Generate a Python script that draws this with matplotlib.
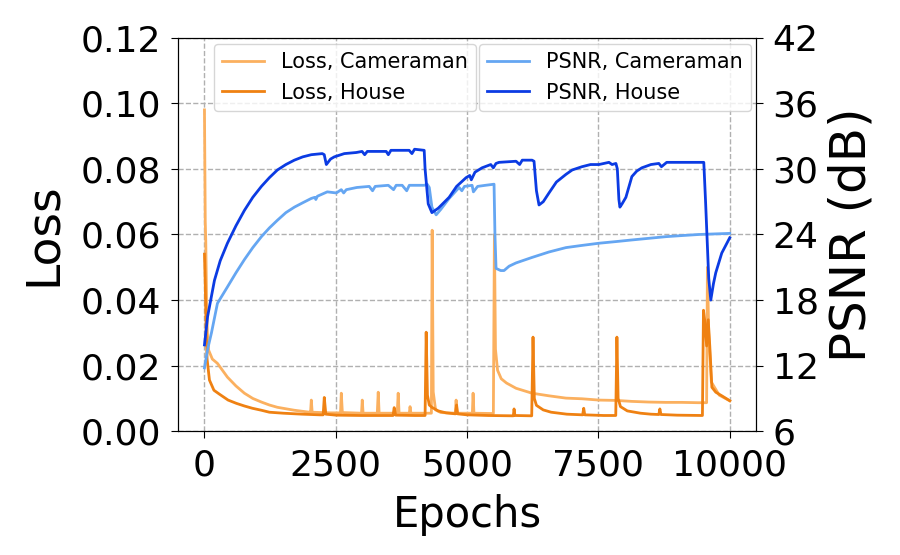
import numpy as np
import matplotlib
matplotlib.use("Agg")
import matplotlib.pyplot as plt

# Loss, Cameraman
ep_loss_cam = [0, 8, 15, 25, 40, 55, 80, 150, 247, 437, 600, 760, 920, 1084, 1236, 1388, 1711,
               2000, 2020, 2034, 2050, 2400, 2590, 2605, 2625, 2990, 3004, 3020, 3290, 3308, 3325,
               3670, 3688, 3705, 3900, 3914, 3930, 4320, 4335, 4355, 4400, 4500, 4775, 4791, 4808,
               5100, 5114, 5130, 5500, 5520, 5540, 5580, 5650, 5750, 5932, 6236, 6559, 6882, 7186,
               7510, 7833, 8137, 8460, 8783, 9087, 9400, 9560, 9575, 9600, 9650, 9800, 10000]
loss_cam = [0.098, 0.080, 0.064, 0.058, 0.040, 0.030, 0.0247, 0.0220, 0.0207, 0.0165, 0.0138,
            0.0116, 0.0100, 0.0089, 0.0080, 0.0073, 0.0064, 0.0058, 0.0058, 0.0095, 0.0058, 0.0056,
            0.0056, 0.0116, 0.0057, 0.0055, 0.0095, 0.0055, 0.0055, 0.0119, 0.0055, 0.0055, 0.0116,
            0.0055, 0.0055, 0.0075, 0.0055, 0.0055, 0.0613, 0.0120, 0.0065, 0.0057, 0.0055, 0.0095,
            0.0055, 0.0055, 0.0116, 0.0055, 0.0054, 0.0600, 0.0250, 0.0186, 0.0160, 0.0147, 0.0131,
            0.0116, 0.0108, 0.0101, 0.0099, 0.0095, 0.0094, 0.0091, 0.0089, 0.0088, 0.0088, 0.0087,
            0.0087, 0.0500, 0.0300, 0.0150, 0.0110, 0.0093]

# Loss, House
ep_loss_house = [0, 15, 30, 50, 95, 180, 285, 450, 608, 760, 913, 1084, 1236, 1500, 1863, 2200,
                 2260, 2281, 2310, 2510, 3000, 3590, 3612, 3640, 4000, 4200, 4221, 4245, 4280, 4330,
                 4450, 4600, 4780, 4800, 4820, 5000, 5400, 5880, 5894, 5910, 6230, 6255, 6280, 6320,
                 6450, 6600, 6900, 7200, 7220, 7240, 7600, 7830, 7852, 7875, 7920, 8050, 8300, 8500,
                 8650, 8670, 8690, 9000, 9480, 9500, 9530, 9560, 9590, 9620, 9660, 9734, 9850, 10000]
loss_house = [0.054, 0.045, 0.032, 0.022, 0.0156, 0.0125, 0.0113, 0.0095, 0.0085, 0.0077, 0.0070,
              0.0064, 0.0058, 0.0055, 0.0052, 0.0050, 0.0050, 0.0103, 0.0052, 0.0049, 0.0048, 0.0048,
              0.0072, 0.0049, 0.0048, 0.0048, 0.0302, 0.0110, 0.0080, 0.0073, 0.0062, 0.0056, 0.0053,
              0.0080, 0.0053, 0.0050, 0.0048, 0.0047, 0.0068, 0.0048, 0.0047, 0.0287, 0.0100, 0.0079,
              0.0065, 0.0058, 0.0052, 0.0050, 0.0070, 0.0050, 0.0048, 0.0048, 0.0287, 0.0100, 0.0075,
              0.0062, 0.0055, 0.0052, 0.0051, 0.0068, 0.0051, 0.0049, 0.0048, 0.0369, 0.0330, 0.0260,
              0.0340, 0.0260, 0.0134, 0.0119, 0.0108, 0.0093]

# PSNR, Cameraman
ep_psnr_cam = [0, 60, 133, 247, 437, 600, 760, 920, 1084, 1236, 1388, 1550, 1711, 1870, 2034, 2100,
               2120, 2150, 2338, 2510, 2605, 2650, 2700, 2900, 3137, 3200, 3250, 3500, 3600, 3650,
               3764, 3850, 3900, 4183, 4240, 4280, 4330, 4411, 4500, 4658, 4848, 4900, 4950, 5095,
               5120, 5200, 5350, 5513, 5530, 5551, 5640, 5703, 5800, 5932, 6236, 6559, 6882, 7186,
               7510, 7833, 8137, 8460, 8783, 9087, 9411, 9700, 10000]
psnr_cam = [11.8, 13.5, 15.0, 17.7, 19.2, 20.5, 21.7, 22.8, 23.8, 24.6, 25.3, 26.0, 26.5, 26.9, 27.3,
            27.4, 27.2, 27.5, 27.9, 27.8, 28.1, 27.8, 28.1, 28.3, 28.4, 28.0, 28.4, 28.5, 28.1, 28.5,
            28.5, 28.0, 28.5, 28.5, 28.6, 28.3, 26.5, 25.8, 26.3, 27.3, 28.3, 28.0, 28.4, 28.5, 27.9,
            28.4, 28.5, 28.6, 24.0, 20.9, 20.7, 20.7, 21.1, 21.4, 21.9, 22.4, 22.8, 23.0, 23.2, 23.35,
            23.5, 23.65, 23.8, 23.9, 24.0, 24.05, 24.1]

# PSNR, House
ep_psnr_house = [0, 60, 190, 300, 437, 600, 760, 920, 1084, 1236, 1388, 1550, 1711, 1870, 2034,
                 2243, 2280, 2320, 2400, 2471, 2662, 2890, 3000, 3050, 3100, 3460, 3500, 3550, 3897,
                 3950, 4000, 4183, 4200, 4260, 4330, 4450, 4658, 4800, 4981, 5050, 5080, 5150, 5285,
                 5450, 5500, 5550, 5608, 5932, 6000, 6050, 6236, 6274, 6320, 6369, 6450, 6559, 6700,
                 6882, 7000, 7186, 7350, 7510, 7700, 7760, 7833, 7860, 7890, 7909, 7950, 8023, 8137,
                 8230, 8327, 8500, 8650, 8700, 8800, 9087, 9506, 9540, 9600, 9639, 9690, 9734, 9848,
                 10000]
psnr_house = [13.9, 16.5, 19.8, 21.6, 23.2, 24.8, 26.2, 27.4, 28.4, 29.2, 29.9, 30.4, 30.8, 31.1,
              31.3, 31.4, 31.3, 30.4, 30.9, 31.1, 31.4, 31.5, 31.6, 31.3, 31.6, 31.6, 31.3, 31.7,
              31.7, 31.4, 31.8, 31.7, 30.0, 26.8, 26.0, 26.4, 27.4, 28.4, 29.2, 29.4, 29.0, 29.7,
              30.1, 30.4, 30.1, 30.5, 30.6, 30.7, 30.4, 30.8, 30.8, 30.7, 28.0, 26.7, 27.0, 27.8,
              28.8, 29.5, 29.9, 30.2, 30.4, 30.4, 30.6, 30.4, 30.5, 30.0, 27.2, 26.5, 26.8, 27.4,
              29.3, 29.8, 30.1, 30.4, 30.5, 30.2, 30.6, 30.6, 30.6, 27.0, 20.0, 18.0, 19.5, 20.5,
              22.3, 23.7]

c_loss_cam = "#FBB05F"
c_loss_house = "#EF8112"
c_psnr_cam = "#65A6F2"
c_psnr_house = "#0B3BE3"

fig, ax1 = plt.subplots(figsize=(9, 5.55), dpi=100)
fig.subplots_adjust(left=0.198, right=0.84, bottom=0.223, top=0.932)

l1, = ax1.plot(ep_loss_cam, loss_cam, color=c_loss_cam, lw=2, label="Loss, Cameraman")
l2, = ax1.plot(ep_loss_house, loss_house, color=c_loss_house, lw=2, label="Loss, House")
ax1.set_ylim(0, 0.12)
ax1.set_yticks(np.arange(0, 0.121, 0.02))
ax1.yaxis.set_major_formatter(matplotlib.ticker.FormatStrFormatter("%.2f"))
ax1.set_xlim(-500, 10500)
ax1.set_xticks([0, 2500, 5000, 7500, 10000])
ax1.set_xlabel("Epochs", fontsize=30, labelpad=8)
ax1.set_ylabel("Loss", fontsize=34, labelpad=10)
ax1.tick_params(labelsize=26, length=5, pad=7.5)
ax1.grid(True, linestyle="--", color="#b0b0b0", lw=1)

ax2 = ax1.twinx()
l3, = ax2.plot(ep_psnr_cam, psnr_cam, color=c_psnr_cam, lw=2, label="PSNR, Cameraman")
l4, = ax2.plot(ep_psnr_house, psnr_house, color=c_psnr_house, lw=2, label="PSNR, House")
ax2.set_ylim(6, 42)
ax2.set_yticks(np.arange(6, 43, 6))
ax2.set_ylabel("PSNR (dB)", fontsize=36, labelpad=6)
ax2.tick_params(labelsize=26, length=5, pad=7)

leg1 = ax2.legend(handles=[l1, l2], loc="upper left", bbox_to_anchor=(0.044, 1.011), fontsize=15)
ax2.add_artist(leg1)
ax2.legend(handles=[l3, l4], loc="upper right", bbox_to_anchor=(1.009, 1.011), fontsize=15)

plt.savefig("out.png", dpi=100)
